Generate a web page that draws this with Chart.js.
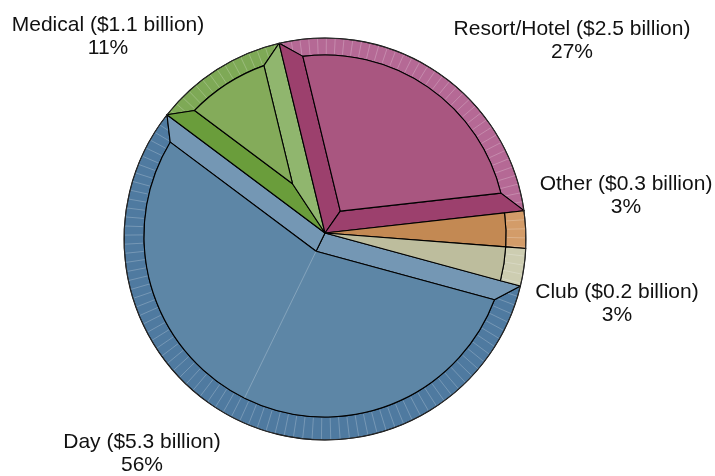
<!DOCTYPE html>
<html>
<head>
<meta charset="utf-8">
<script src="https://cdn.jsdelivr.net/npm/chart.js@4.4.1/dist/chart.umd.min.js"></script>
<style>
html,body{margin:0;padding:0;background:#fff;}
#wrap{width:715px;height:476px;}
</style>
</head>
<body>
<div id="wrap"><canvas id="pie" width="715" height="476"></canvas></div>
<script>
const categories = ["Day", "Medical", "Resort/Hotel", "Other", "Club"];
const revenue = [5.3, 1.1, 2.5, 0.3, 0.2];   // $ billion
const shares = [56, 11, 27, 3, 3];           // percent of total

// face / lit bevel / shaded bevel / outer rim
const palette = [
    {face:"#5d86a6", light:"#7497b4", dark:"#4d7396", rim:"#4f7aa0"},
    {face:"#84ab5a", light:"#90b66e", dark:"#6a9d3b", rim:"#7ea956"},
    {face:"#a95680", light:"#b66b93", dark:"#9c406d", rim:"#b56995"},
    {face:"#c38953", light:"#cf9a68", dark:"#b07844", rim:"#d39c69"},
    {face:"#bdbd9d", light:"#cbcbb0", dark:"#a9a98a", rim:"#cdcdb1"}
];

// label anchor: centre x, baseline of first line
const labelAt = [[142,448],[108,31],[572,35],[626,190],[617,298]];

const BEVEL = 20;        // width of the sloped edges
const RIM_DROP = 6;      // outer edge sits lower than the apex (perspective)
const INNER_DROP = 3;
const LIGHT = -60*Math.PI/180;
const SEAM_STEP = 2.6*Math.PI/180;

function shadeFor(c, normal){
    return Math.cos(normal - LIGHT) > 0 ? c.light : c.dark;
}

// point where a ray from (ax,ay) along (ux,uy) leaves the circle (ox,oy,rad)
function rayHit(ax, ay, ux, uy, ox, oy, rad){
    const wx = ax-ox, wy = ay-oy;
    const wu = wx*ux + wy*uy;
    const t = -wu + Math.sqrt(wu*wu - (wx*wx + wy*wy) + rad*rad);
    return [ax + t*ux, ay + t*uy];
}
const angOf = (p, ox, oy)=>Math.atan2(p[1]-oy, p[0]-ox);

function drawSlice(ctx, arc, c){
    const {x:cx, y:cy, startAngle:a0, endAngle:a1, outerRadius:R} =
        arc.getProps(["x","y","startAngle","endAngle","outerRadius"], true);
    const r = R - BEVEL;
    const oy = cy + RIM_DROP, iy = cy + INNER_DROP;
    const span = a1 - a0;
    const mid = (a0 + a1)/2;
    const small = Math.sin(span/2) < BEVEL/(r*0.5);

    const u0 = [Math.cos(a0), Math.sin(a0)], u1 = [Math.cos(a1), Math.sin(a1)];
    const outS = rayHit(cx, cy, u0[0], u0[1], cx, oy, R);
    const outE = rayHit(cx, cy, u1[0], u1[1], cx, oy, R);
    let inS, inE;
    if(small){
        inS = rayHit(cx, cy, u0[0], u0[1], cx, iy, r);
        inE = rayHit(cx, cy, u1[0], u1[1], cx, iy, r);
    } else {
        // edges pushed inward by BEVEL
        inS = rayHit(cx - BEVEL*u0[1], cy + BEVEL*u0[0], u0[0], u0[1], cx, iy, r);
        inE = rayHit(cx + BEVEL*u1[1], cy - BEVEL*u1[0], u1[0], u1[1], cx, iy, r);
    }
    const o0 = angOf(outS, cx, oy), o1 = angOf(outE, cx, oy);
    const i0 = angOf(inS, cx, iy), i1 = angOf(inE, cx, iy);

    ctx.save();
    ctx.lineJoin = "round";
    ctx.strokeStyle = "#000";
    ctx.lineWidth = 1.1;

    // outer rim
    const rimPath = ()=>{
        ctx.beginPath();
        ctx.arc(cx, oy, R, o0, o1);
        ctx.lineTo(...inE);
        ctx.arc(cx, iy, r, i1, i0, true);
        ctx.closePath();
    };
    rimPath();
    ctx.fillStyle = c.rim;
    ctx.fill();
    ctx.save();
    ctx.clip();
    ctx.strokeStyle = "rgba(255,255,255,0.25)";
    ctx.lineWidth = 0.9;
    for(let a = Math.ceil(a0/SEAM_STEP)*SEAM_STEP; a < a1; a += SEAM_STEP){
        const p = rayHit(cx, cy, Math.cos(a), Math.sin(a), cx, iy, r+1);
        const q = rayHit(cx, cy, Math.cos(a), Math.sin(a), cx, oy, R+2);
        ctx.beginPath();
        ctx.moveTo(...p);
        ctx.lineTo(...q);
        ctx.stroke();
    }
    ctx.restore();
    rimPath();
    ctx.stroke();

    if(small){
        ctx.beginPath();
        ctx.moveTo(cx, cy);
        ctx.lineTo(...inS);
        ctx.arc(cx, iy, r, i0, i1);
        ctx.closePath();
        ctx.fillStyle = c.face;
        ctx.fill();
        ctx.stroke();
    } else {
        const d = BEVEL/Math.sin(span/2);
        const v = [cx + d*Math.cos(mid), cy + d*Math.sin(mid)];

        ctx.beginPath();
        ctx.moveTo(cx, cy);
        ctx.lineTo(...outS);
        ctx.lineTo(...inS);
        ctx.lineTo(...v);
        ctx.closePath();
        ctx.fillStyle = shadeFor(c, a0 - Math.PI/2);
        ctx.fill();
        ctx.stroke();

        ctx.beginPath();
        ctx.moveTo(cx, cy);
        ctx.lineTo(...v);
        ctx.lineTo(...inE);
        ctx.lineTo(...outE);
        ctx.closePath();
        ctx.fillStyle = shadeFor(c, a1 + Math.PI/2);
        ctx.fill();
        ctx.stroke();

        ctx.beginPath();
        ctx.moveTo(...v);
        ctx.lineTo(...inS);
        ctx.arc(cx, iy, r, i0, i1);
        ctx.closePath();
        ctx.fillStyle = c.face;
        ctx.fill();
        ctx.stroke();

        if(span > Math.PI){
            // faint facet seam across the wide face
            const end = rayHit(v[0], v[1], Math.cos(mid), Math.sin(mid), cx, iy, r);
            ctx.strokeStyle = "rgba(255,255,255,0.3)";
            ctx.lineWidth = 0.8;
            ctx.beginPath();
            ctx.moveTo(...v);
            ctx.lineTo(...end);
            ctx.stroke();
        }
    }
    ctx.restore();
    return {cx, oy, R};
}

const bevelPie = {
    id: "bevelPie",
    afterDatasetsDraw(chart){
        const ctx = chart.ctx;
        const meta = chart.getDatasetMeta(0);
        let geo;
        meta.data.forEach((arc,i)=>{ geo = drawSlice(ctx, arc, palette[i]); });
        ctx.save();
        ctx.strokeStyle = "#333";
        ctx.lineWidth = 0.8;
        ctx.beginPath();
        ctx.arc(geo.cx, geo.oy, geo.R, 0, Math.PI*2);
        ctx.stroke();

        ctx.fillStyle = "#111";
        ctx.textAlign = "center";
        ctx.textBaseline = "alphabetic";
        ctx.font = "21px 'Liberation Sans', Arial, sans-serif";
        categories.forEach((name,i)=>{
            const [lx,ly] = labelAt[i];
            ctx.fillText(`${name} ($${revenue[i].toFixed(1)} billion)`, lx, ly);
            ctx.fillText(`${shares[i]}%`, lx, ly + 23);
        });
        ctx.restore();
    }
};

new Chart(document.getElementById("pie"),{
    type:"pie",
    data:{
        labels: categories,
        datasets:[{
            data: shares,
            backgroundColor: "rgba(0,0,0,0)",
            borderWidth: 0,
            hoverBorderWidth: 0,
            hoverOffset: 0
        }]
    },
    options:{
        responsive:false,
        animation:false,
        rotation:105.2,
        layout:{ padding:{ left:124, right:189, top:32, bottom:42 } },
        plugins:{ legend:{ display:false }, tooltip:{ enabled:false } },
        events:[]
    },
    plugins:[bevelPie]
});
</script>
</body>
</html>
